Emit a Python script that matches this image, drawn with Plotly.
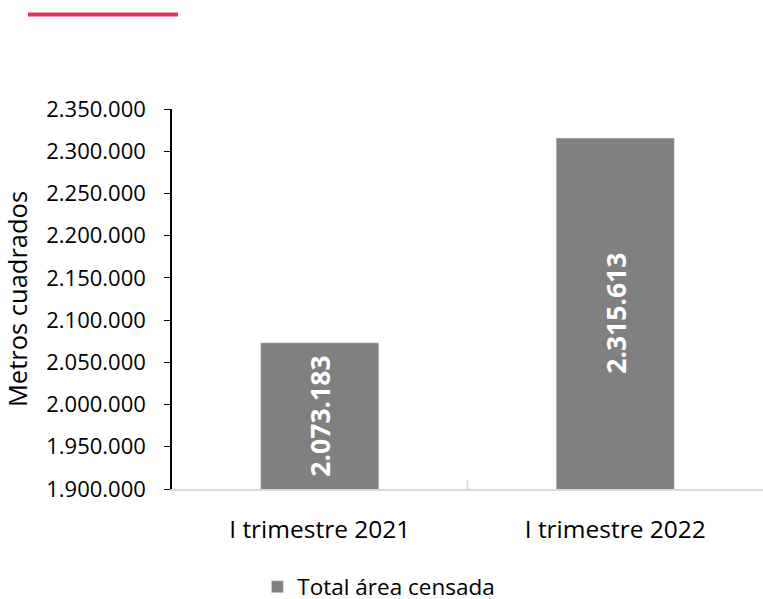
import plotly.graph_objects as go

# Data
categories = ["I trimestre 2021", "I trimestre 2022"]
area_values = [2073183, 2315613]
series_name = "Total área censada"
y_min, y_max, y_step = 1900000, 2350000, 50000
y_ticks = list(range(y_min, y_max + 1, y_step))
y_tick_labels = [f"{v:,}".replace(",", ".") for v in y_ticks]
bar_labels = [f"{v:,}".replace(",", ".") for v in area_values]

FONT = "Open Sans"
BAR_COLOR = "#808080"
ACCENT = "#e0335f"

fig = go.Figure()

fig.add_trace(go.Bar(
    x=categories,
    y=area_values,
    name=series_name,
    marker_color=BAR_COLOR,
    showlegend=True,
))

# value labels, rotated and centred on the visible part of each bar
for cat, val, lab in zip(categories, area_values, bar_labels):
    fig.add_annotation(
        x=cat, y=(y_min + val) / 2, xref="x", yref="y",
        text=f"<b>{lab}</b>", textangle=-90, showarrow=False,
        font=dict(family=FONT, size=26.5, color="white"),
    )

fig.update_layout(
    width=763,
    height=599,
    margin=dict(l=172, r=0, t=109, b=110, autoexpand=False),
    plot_bgcolor="white",
    paper_bgcolor="white",
    bargap=0.6,
    font=dict(family=FONT, color="#000000"),
    showlegend=True,
    legend=dict(
        orientation="h",
        x=0.35, xanchor="center",
        y=-0.258, yanchor="middle",
        font=dict(size=22.5, color="#000000"),
    ),
    shapes=[dict(
        type="line", xref="paper", yref="paper",
        x0=-0.2437, x1=0.0102, y0=1.249, y1=1.249,
        line=dict(color=ACCENT, width=4),
    )],
)

fig.update_yaxes(
    range=[y_min, y_max],
    tickvals=y_ticks,
    ticktext=y_tick_labels,
    tickfont=dict(size=22, color="#000000"),
    showgrid=False,
    zeroline=False,
    showline=True,
    linecolor="#000000",
    linewidth=1.5,
    ticks="outside",
    ticklen=6,
    tickcolor="#000000",
    ticklabelstandoff=14,
    automargin=False,
    title=dict(text="Metros cuadrados", font=dict(size=25.5, color="#000000"), standoff=18),
)

fig.update_xaxes(
    tickfont=dict(size=24.5, color="#000000"),
    tickangle=0,
    showgrid=False,
    showline=True,
    linecolor="#d9d9d9",
    linewidth=1.5,
    ticks="",
    ticklabelstandoff=18,
    automargin=False,
)

# light category divider tick on the baseline
fig.add_shape(type="line", xref="x", yref="paper", x0=0.5, x1=0.5, y0=0, y1=0.024,
              line=dict(color="#d9d9d9", width=1.5))

# drop the default page margin so the figure fills the window exactly
fig.write_html("out.html", config={"displayModeBar": False},
               post_script="document.body.style.margin='0';")
